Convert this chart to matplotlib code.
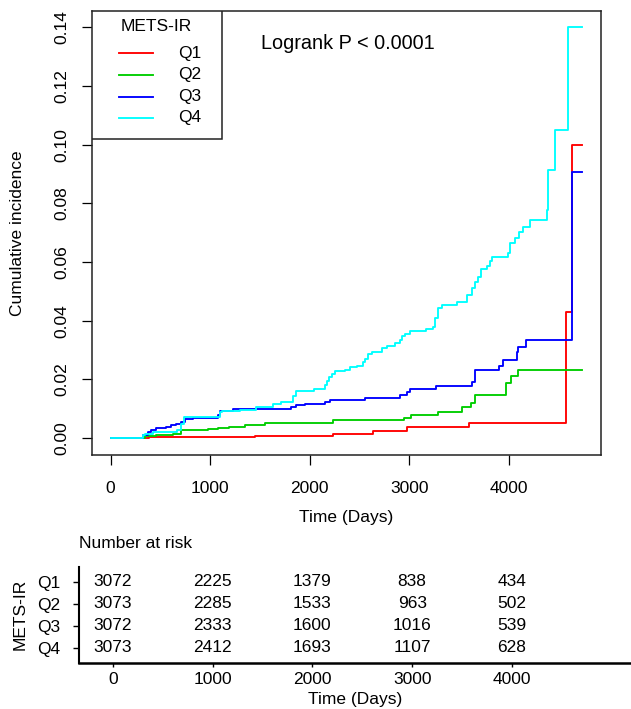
import numpy as np
import matplotlib
matplotlib.use("Agg")
import matplotlib.pyplot as plt
from matplotlib.patches import Rectangle

plt.rcParams['font.family'] = ['Liberation Sans', 'DejaVu Sans']

# curvas de incidencia acumulada (tiempo en días, valor)
q1_t = [0, 390, 1447, 2234, 2636, 2978, 3601, 4573, 4630, 4735]
q1_v = [0, 0.0002, 0.0006, 0.0015, 0.0024, 0.0037, 0.0051, 0.0430, 0.1000, 0.1000]

q2_t = [0, 342, 459, 626, 710, 981, 1078, 1189, 1347, 1548, 2234, 2945, 3012,
        3290, 3524, 3615, 3658, 3971, 4022, 4092, 4735]
q2_v = [0, 0.0007, 0.0011, 0.0015, 0.0029, 0.0032, 0.0035, 0.0038, 0.0044, 0.0052,
        0.0060, 0.0069, 0.0078, 0.0090, 0.0105, 0.0119, 0.0148, 0.0188, 0.0210,
        0.0232, 0.0232]

q3_t = [0, 325, 375, 409, 459, 560, 610, 660, 710, 743, 827, 1078, 1102, 1229,
        1816, 1866, 1950, 2151, 2201, 2553, 2905, 2972, 3005, 3266, 3625, 3658,
        3903, 3938, 4076, 4093, 4172, 4630, 4735]
q3_v = [0, 0.0012, 0.0020, 0.0029, 0.0034, 0.0038, 0.0043, 0.0048, 0.0056, 0.0066,
        0.0070, 0.0077, 0.0092, 0.0100, 0.0105, 0.0113, 0.0117, 0.0124, 0.0131,
        0.0137, 0.0147, 0.0158, 0.0168, 0.0177, 0.0190, 0.0233, 0.0247, 0.0267,
        0.0292, 0.0311, 0.0335, 0.0906, 0.0906]

q4_t = [0, 325, 342, 428, 670, 705, 739, 1095, 1120, 1296, 1464, 1631, 1716,
        1828, 1863, 2040, 2151, 2168, 2194, 2218, 2251, 2352, 2402, 2476, 2530,
        2553, 2586, 2620, 2720, 2777, 2854, 2905, 2921, 2955, 3005, 3166, 3239,
        3256, 3290, 3323, 3474, 3575, 3625, 3658, 3692, 3715, 3776, 3809, 3826,
        3993, 4010, 4060, 4104, 4137, 4211, 4379, 4395, 4462, 4596, 4735]
q4_v = [0, 0.0010, 0.0015, 0.0020, 0.0029, 0.0049, 0.0071, 0.0088, 0.0094, 0.0097,
        0.0105, 0.0117, 0.0122, 0.0142, 0.0159, 0.0168, 0.0181, 0.0196, 0.0207,
        0.0218, 0.0228, 0.0233, 0.0241, 0.0247, 0.0258, 0.0269, 0.0286, 0.0294,
        0.0306, 0.0315, 0.0323, 0.0335, 0.0347, 0.0356, 0.0364, 0.0371, 0.0377,
        0.0411, 0.0443, 0.0454, 0.0464, 0.0487, 0.0511, 0.0532, 0.0550, 0.0575,
        0.0587, 0.0604, 0.0617, 0.0632, 0.0664, 0.0682, 0.0702, 0.0720, 0.0743,
        0.0777, 0.0915, 0.1049, 0.1400, 0.1400]

grupos = ['Q1', 'Q2', 'Q3', 'Q4']
colores = ['#FF0000', '#00CD00', '#0000FF', '#00FFFF']

# tabla de números en riesgo
risk_times = [0, 1000, 2000, 3000, 4000]
risk_q1 = [3072, 2225, 1379, 838, 434]
risk_q2 = [3073, 2285, 1533, 963, 502]
risk_q3 = [3072, 2333, 1600, 1016, 539]
risk_q4 = [3073, 2412, 1693, 1107, 628]

fs = 12.5
lw = 1.35
fig = plt.figure(figsize=(6.31, 7.09), dpi=100)

# ---- gráfico principal ----
ax = fig.add_axes([91.7 / 631, 1 - 454.5 / 709, 509 / 631, 443.5 / 709])
series = [(q1_t, q1_v), (q2_t, q2_v), (q3_t, q3_v), (q4_t, q4_v)]
for (t, v), c, g in zip(series, colores, grupos):
    ax.step(t, v, where='post', color=c, lw=lw, label=g)

ax.set_xlim(-189, 4920)
ax.set_ylim(-0.0056, 0.1456)
ax.set_xticks(risk_times)
ax.set_yticks(np.arange(0, 0.141, 0.02))
ax.set_yticklabels([f"{y:.2f}" for y in np.arange(0, 0.141, 0.02)])
for s in ax.spines.values():
    s.set_linewidth(1.1)
    s.set_color('#222222')
ax.tick_params(axis='x', direction='out', length=7.5, width=0.9, pad=11.5, labelsize=fs)
ax.tick_params(axis='y', direction='out', length=7.5, width=0.9, pad=8.5, labelsize=fs)
for lbl in ax.get_yticklabels():
    lbl.set_rotation(90)
    lbl.set_va('center')
ax.set_xlabel('Time (Days)', fontsize=fs, va='center')
ax.xaxis.set_label_coords(0.5, -0.141)
ax.set_ylabel('Cumulative incidence', fontsize=fs, va='center')
ax.yaxis.set_label_coords(-0.1448, 0.5)

ax.text(0.5035, 0.927, 'Logrank P < 0.0001', transform=ax.transAxes,
        ha='center', va='center', fontsize=14.3)

# leyenda al estilo R
ax.add_patch(Rectangle((0, 0.7114), 0.256, 0.2886, transform=ax.transAxes,
                       facecolor='white', edgecolor='#222222', lw=1.1, zorder=5))
ax.text(0.1277, 0.9646, 'METS-IR', transform=ax.transAxes, ha='center',
        va='center', fontsize=fs, zorder=6)
filas = [0.9046, 0.8557, 0.8068, 0.7594]
for yy, c, g in zip(filas, colores, grupos):
    ax.plot([0.0542, 0.1198], [yy, yy], color=c, lw=lw, transform=ax.transAxes, zorder=6)
    ax.text(0.1701, yy, g, transform=ax.transAxes, ha='left', va='center',
            fontsize=fs, zorder=6)

# ---- tabla de riesgo ----
tb = fig.add_axes([79 / 631, 1 - 662.7 / 709, 552 / 631, 96 / 709])
tb.set_xlim(-338, 5193)
tb.set_ylim(0.32, 4.68)
filas_riesgo = [risk_q1, risk_q2, risk_q3, risk_q4]
for i, fila in enumerate(filas_riesgo):
    for t, n in zip(risk_times, fila):
        tb.text(t, 4 - i, str(n), ha='center', va='center', fontsize=fs)
tb.set_yticks([4, 3, 2, 1])
tb.set_yticklabels(grupos)
tb.set_xticks(risk_times)
tb.spines['top'].set_visible(False)
tb.spines['right'].set_visible(False)
tb.spines['left'].set_linewidth(1.5)
tb.spines['bottom'].set_linewidth(1.8)
tb.tick_params(axis='y', direction='out', length=4.5, width=1.0, pad=9, labelsize=fs)
tb.tick_params(axis='x', direction='out', length=3, width=1.0, pad=3.5, labelsize=fs)
tb.set_xlabel('Time (Days)', fontsize=fs, va='center')
tb.xaxis.set_label_coords(0.5, -0.381)
tb.set_ylabel('METS-IR', fontsize=fs, va='center')
tb.yaxis.set_label_coords(-0.1069, 0.5)

fig.text(79 / 631, 1 - 543.3 / 709, 'Number at risk', ha='left', va='center', fontsize=fs)

fig.savefig('out.png', dpi=100)
